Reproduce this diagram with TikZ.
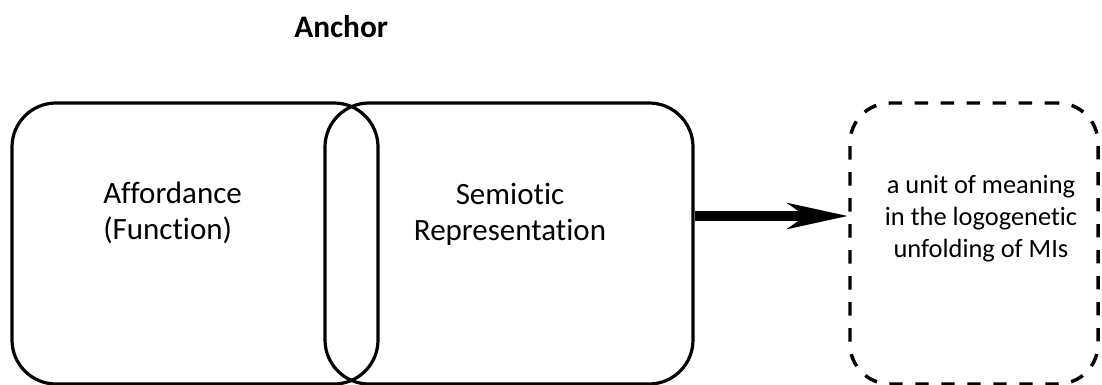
\documentclass[tikz,border=0pt]{standalone}
\usepackage{fontspec}
\setmainfont{Carlito}[Ligatures=NoCommon]
\usetikzlibrary{arrows.meta}
\begin{document}
\begin{tikzpicture}[x=0.75pt,y=-0.75pt,
  panel/.style={draw=black, line width=2.4pt, rounded corners=33pt,
    inner sep=0pt, minimum height=210.75pt},
  dashpanel/.style={draw=black, line width=2.6pt, rounded corners=30pt,
    inner sep=0pt, minimum height=210.75pt, dash pattern=on 10pt off 9.5pt},
  label/.style={inner sep=0pt, text=black},
  maintext/.style={label, font=\fontsize{23.25}{27}\selectfont},
  smalltext/.style={label, font=\fontsize{19.8}{24}\selectfont},
  bigarrow/.style={draw=black, line width=7.5pt,
    -{Stealth[length=45pt, width=19pt, inset=13pt]}}
]
\useasboundingbox (0,0) rectangle (1102,385);

% title
\node[label, anchor=base west, font=\bfseries\fontsize{23.5}{28}\selectfont]
  (title) at (294,38) {Anchor};

% two overlapping panels
\node[panel, minimum width=274.5pt] (aff) at (195,243.5) {};
\node[panel, minimum width=276pt] (sem) at (509,243.5) {};

% dashed outcome panel
\node[dashpanel, minimum width=186pt] (unit) at (974,243.5) {};

% panel texts (base anchor sits on the last line)
\node[maintext, anchor=base west, align=left] (afftext) at (103,239)
  {Affordance\\(Function)};
\node[maintext, anchor=base, align=center] (semtext) at (510,240)
  {Semiotic\\Representation};
\node[smalltext, anchor=base, align=center] (unittext) at (981,257)
  {a unit of meaning\\in the logogenetic\\unfolding of MIs};

% connector
\coordinate (arr) at (0,216);
\draw[bigarrow] (sem.east |- arr) -- (unit.west |- arr);
\end{tikzpicture}
\end{document}
